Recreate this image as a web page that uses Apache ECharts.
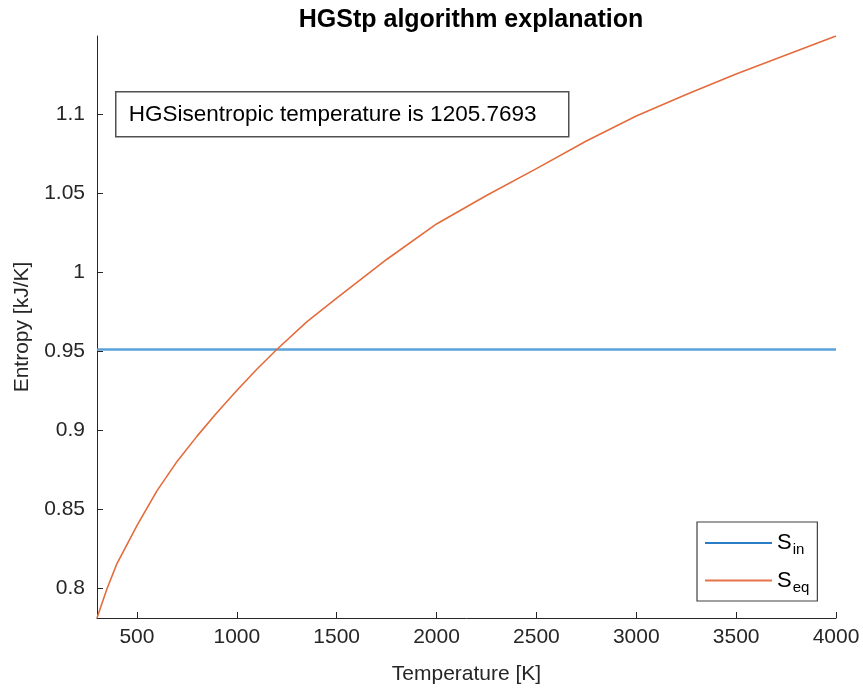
<!DOCTYPE html>
<html>
<head>
<meta charset="utf-8">
<script src="https://cdn.jsdelivr.net/npm/echarts@6.0.0/dist/echarts.min.js"></script>
<style>
  html, body { margin: 0; padding: 0; background: #fff; }
  #chart { width: 863px; height: 694px; }
</style>
</head>
<body>
<div id="chart"></div>
<script>
// Data
var temps = [300, 350, 400, 500, 600, 700, 800, 900, 1000, 1100, 1200, 1350, 1500,
             1750, 2000, 2250, 2500, 2750, 3000, 3250, 3500, 3750, 4000];
var sEq = [0.7810, 0.7995, 0.8155, 0.8395, 0.8615, 0.8800, 0.8960, 0.9110, 0.9250,
           0.9385, 0.9510, 0.9685, 0.9835, 1.0080, 1.0305, 1.0485, 1.0655, 1.0830,
           1.0988, 1.1125, 1.1255, 1.1375, 1.1495];
var sInT = [300, 4000];
var sIn = [0.951, 0.951];
var xTicks = [500, 1000, 1500, 2000, 2500, 3000, 3500, 4000];
var yTicks = [0.8, 0.85, 0.9, 0.95, 1, 1.05, 1.1];
var seriesNames = ['S_in', 'S_eq'];
var annotation = 'HGSisentropic temperature is 1205.7693';

var FONT = 'Liberation Sans, Arial, sans-serif';
var AXIS_COLOR = '#262626';

function pairs(xs, ys) {
  var out = [];
  for (var i = 0; i < xs.length; i++) out.push([xs[i], ys[i]]);
  return out;
}

function legendLabel(name) {
  var parts = name.split('_');
  return '{s|' + parts[0] + '}{sub|' + parts[1] + '}';
}

var chart = echarts.init(document.getElementById('chart'), null, { renderer: 'canvas' });

var option = {
  animation: false,
  backgroundColor: '#fff',
  title: {
    text: 'HGStp algorithm explanation',
    left: 466, top: 3, textAlign: 'center',
    textStyle: { fontFamily: FONT, fontSize: 25, fontWeight: 'bold', color: '#000' }
  },
  grid: { left: 97, right: 27, top: 36, bottom: 76, containLabel: false },
  xAxis: {
    type: 'value',
    min: 300, max: 4000,
    name: 'Temperature [K]',
    nameLocation: 'middle',
    nameGap: 46,
    nameTextStyle: { fontFamily: FONT, fontSize: 21, color: AXIS_COLOR },
    axisLine: { show: true, lineStyle: { color: AXIS_COLOR, width: 1 } },
    axisTick: { show: true, inside: true, length: 6, customValues: xTicks, lineStyle: { color: AXIS_COLOR } },
    axisLabel: {
      customValues: xTicks, margin: 9, fontFamily: FONT, fontSize: 21, color: AXIS_COLOR,
      formatter: function (v) { return String(v); }
    },
    splitLine: { show: false }
  },
  yAxis: {
    type: 'value',
    min: 0.781, max: 1.1495,
    name: 'Entropy [kJ/K]',
    nameLocation: 'middle',
    nameRotate: 90,
    nameGap: 64,
    nameTextStyle: { fontFamily: FONT, fontSize: 21, color: AXIS_COLOR },
    axisLine: { show: true, lineStyle: { color: AXIS_COLOR, width: 1 } },
    axisTick: { show: true, inside: true, length: 6, customValues: yTicks, lineStyle: { color: AXIS_COLOR } },
    axisLabel: {
      customValues: yTicks, margin: 12, fontFamily: FONT, fontSize: 21, color: AXIS_COLOR,
      formatter: function (v) { return String(v); }
    },
    splitLine: { show: false }
  },
  legend: {
    orient: 'vertical',
    left: 697, top: 522,
    padding: [10, 8, 6, 8],
    itemGap: 12,
    itemWidth: 67, itemHeight: 2,
    icon: 'rect',
    borderColor: '#404040', borderWidth: 1.2,
    backgroundColor: '#fff',
    data: [
      { name: seriesNames[0], itemStyle: { color: '#2a7cc4' } },
      { name: seriesNames[1], itemStyle: { color: '#e8734a' } }
    ],
    formatter: legendLabel,
    textStyle: {
      color: '#000',
      rich: {
        s: { fontFamily: FONT, fontSize: 22, color: '#000' },
        sub: { fontFamily: FONT, fontSize: 15, color: '#000', padding: [14, 0, 0, 1] }
      }
    }
  },
  graphic: [{
    type: 'group',
    left: 115, top: 91,
    children: [
      { type: 'rect', shape: { x: 0, y: 0, width: 453, height: 45 },
        style: { fill: '#fff', stroke: '#505050', lineWidth: 1.5 } },
      { type: 'text', x: 13, y: 23,
        style: { text: annotation, fontFamily: FONT, fontSize: 22.5, fill: '#000',
                 verticalAlign: 'middle', align: 'left' } }
    ]
  }],
  series: [
    {
      name: seriesNames[0],
      type: 'line',
      data: pairs(sInT, sIn),
      symbol: 'none',
      lineStyle: { color: '#5aa2da', width: 2.5 },
      itemStyle: { color: '#5aa2da' },
      z: 2
    },
    {
      name: seriesNames[1],
      type: 'line',
      data: pairs(temps, sEq),
      symbol: 'none',
      lineStyle: { color: '#e46c3c', width: 1.6 },
      itemStyle: { color: '#e46c3c' },
      z: 3
    }
  ]
};

chart.setOption(option);
</script>
</body>
</html>
